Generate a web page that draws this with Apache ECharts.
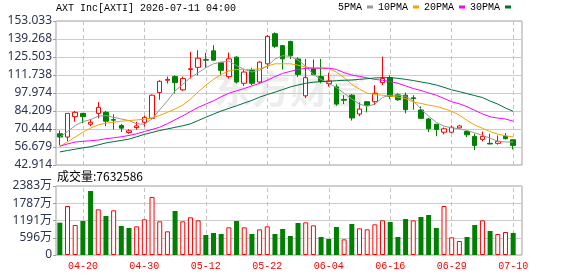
<!DOCTYPE html>
<html><head><meta charset="utf-8">
<script src="https://cdn.jsdelivr.net/npm/echarts@6/dist/echarts.min.js"></script>
<style>html,body{margin:0;padding:0;background:#fff}#c{width:578px;height:276px}</style>
</head><body><div id="c"></div>
<script>
const titleText = 'AXT Inc[AXTI] 2026-07-11 04:00';
const dates = ['04-15','04-16','04-17','04-20','04-21','04-22','04-23','04-24','04-27','04-28',
'04-29','04-30','05-01','05-04','05-05','05-06','05-07','05-08','05-11','05-12',
'05-13','05-14','05-15','05-18','05-19','05-20','05-21','05-22','05-26','05-27',
'05-28','05-29','06-01','06-02','06-03','06-04','06-05','06-08','06-09','06-10',
'06-11','06-12','06-15','06-16','06-17','06-18','06-22','06-23','06-24','06-25',
'06-26','06-29','06-30','07-01','07-02','07-06','07-07','07-08','07-09','07-10'];
const tickDates = ['04-20','04-30','05-12','05-22','06-04','06-16','06-29','07-10'];
const opens = [66.8,64.3,79.9,82.4,74.1,82.4,83.2,77.6,73.1,67.8, 71.6,75.6,78.6,98.3,107.7,110.5,100.4,116.0,117.6,123.5,
130.2,121.1,110.5,125.4,105.4,115.5,106.4,120.3,143.3,134.2, 137.4,124.0,95.8,116.5,110.5,105.2,102.6,93.0,96.3,81.9,
91.3,91.3,105.9,109.7,96.6,96.3,94.3,85.0,78.1,74.1, 68.0,68.0,71.3,68.5,64.8,62.5,59.5,59.5,64.8,62.2];
const closes = [64.3,82.4,83.2,79.9,75.6,87.0,76.4,77.2,71.1,69.1, 72.8,79.4,96.3,106.9,108.4,105.9,109.0,116.5,124.6,123.1,
123.1,115.3,124.1,106.4,114.0,105.4,121.6,141.3,133.7,124.1, 126.5,112.1,109.7,112.2,106.7,107.2,89.5,92.5,78.9,85.7,
88.7,97.8,109.0,95.3,92.8,85.2,93.8,78.6,70.6,70.1, 70.6,71.8,72.8,66.0,57.9,64.8,59.0,61.0,63.0,57.9];
const lows = [57.9,61.0,76.1,74.9,72.6,78.6,72.6,70.0,68.0,66.8, 70.0,72.3,78.1,92.8,105.2,97.8,99.6,109.0,111.5,117.3,
122.8,111.5,109.0,105.2,103.4,103.9,105.4,116.5,132.4,116.0, 124.0,110.1,94.1,111.5,105.4,102.9,88.2,89.5,76.9,80.2,
83.2,88.7,103.9,93.3,92.0,82.4,85.2,78.1,68.0,65.0, 66.3,67.5,70.6,64.3,54.2,61.0,58.7,58.4,62.5,54.9];
const highs = [69.3,82.4,84.2,82.4,78.1,91.0,84.2,81.7,74.4,70.3, 75.9,80.7,96.8,107.7,110.5,111.5,110.5,129.4,130.7,128.6,
134.5,121.8,128.9,126.1,115.5,117.3,122.3,142.3,144.3,134.7, 137.9,125.3,124.0,123.6,124.0,113.5,104.6,96.3,97.1,90.8,
91.8,104.1,125.8,111.5,97.8,98.3,96.3,87.7,78.9,74.1, 71.6,73.1,73.6,69.3,66.8,68.5,66.8,65.5,67.3,62.2];
const volumes = [11160000,16920000,10360000,11740000,22110000,15780000,13470000,15430000,10020000,9330000,
9900000,12320000,20030000,11630000,8170000,15200000,11630000,13010000,11970000,6910000,
7600000,7250000,9550000,11740000,9550000,7250000,8860000,9900000,7250000,8980000,
6560000,11050000,11280000,10250000,6220000,5530000,9670000,5410000,10710000,9210000,
8870000,10590000,11970000,11400000,6220000,12430000,11970000,13130000,13820000,9330000,
16920000,6100000,4840000,6220000,10360000,11970000,8290000,7250000,7940000,7632586];
const volUp = [0,1,1,0,0,1,0,1,0,0, 1,1,1,1,1,0,1,1,1,0, 0,0,1,0,1,0,1,1,0,0,
0,0,1,1,0,0,0,1,0,1, 1,1,1,0,0,0,1,0,0,0, 1,1,1,0,0,1,0,1,1,0];
const ma5 = [64.3,68.5,73.1,76.1,77.6,80.2,80.7,79.4,78.1,76.9, 74.4,74.1,78.1,85.2,92.0,99.6,104.6,109.7,113.5,117.3,
120.3,121.6,122.3,119.0,116.0,114.0,115.5,118.5,124.0,126.5, 126.0,123.1,118.5,112.2,108.4,105.4,102.1,97.8,93.3,89.5,
87.7,89.5,94.6,96.3,96.3,95.3,92.0,85.7,80.2,75.6, 72.6,71.3,70.6,69.3,67.5,65.5,63.5,61.0,60.5,60.5];
const ma10 = [57.2,60.5,64.3,68.0,71.1,73.6,74.9,75.6,76.4,76.9, 77.4,77.9,78.9,80.9,83.2,85.7,88.7,93.3,98.8,103.9,
108.4,112.2,114.8,116.0,116.0,116.0,116.5,118.5,120.3,120.3, 120.3,119.3,117.8,117.0,117.0,116.5,114.0,109.7,104.6,100.9,
97.8,96.8,96.3,95.6,94.8,93.8,91.0,90.0,88.7,87.7, 86.0,84.0,81.0,77.0,73.5,71.0,68.5,66.5,65.3,64.3];
const ma20 = [57.2,59.0,60.5,61.0,61.5,62.0,63.0,63.7,64.5,65.5, 66.8,68.5,70.1,71.8,74.5,77.5,80.5,83.8,87.0,89.5,
92.0,95.1,97.8,99.6,101.4,103.4,105.4,107.7,110.5,113.0, 114.5,116.0,116.8,117.0,117.0,117.0,116.0,113.5,111.7,110.7,
109.5,108.4,107.7,106.7,105.4,103.4,101.4,99.9,98.0,96.3, 93.8,91.3,89.7,87.5,84.7,82.0,79.8,78.8,78.1,76.4];
const ma30 = [52.9,54.0,55.0,56.0,56.9,58.3,59.8,60.8,61.7,62.7, 64.5,66.3,67.8,69.3,70.5,71.7,72.9,74.4,76.9,79.4,
81.9,84.2,86.2,88.2,90.3,92.3,94.8,96.8,98.6,100.6, 102.6,104.1,105.4,106.2,106.7,106.9,107.4,107.7,107.9,108.4,
108.9,109.5,109.7,109.7,109.2,108.4,107.5,106.4,105.4,104.1, 102.3,100.4,99.0,97.5,96.0,94.5,91.8,89.5,86.5,84.0];
const priceTicks = ['42.914','56.679','70.444','84.209','97.974','111.738','125.503','139.268','153.033'];
const volTicks = ['0','596万','1191万','1787万','2383万'];
const volMax = 23830000;

const pMin = parseFloat(priceTicks[0]);
const pMax = parseFloat(priceTicks[priceTicks.length - 1]);
const pInt = (pMax - pMin) / (priceTicks.length - 1);
const vInt = volMax / (volTicks.length - 1);

const UP = '#ff0000', DOWN = '#008000';
const mono = "'Liberation Mono', monospace";
const sans = "'Noto Sans', 'Noto Sans CJK SC', sans-serif";
const gridL = 56, gridW = 466, dataW = 461;
const gridStyle = { color: '#cccccc', width: 1 };
const dashStyle = { color: '#c4c4c4', width: 1, type: [4, 3] };
const showTick = (idx, val) => tickDates.indexOf(val) >= 0;
const vLines = () => ({
  silent: true, symbol: 'none', z: 1, animation: false,
  label: { show: false }, emphasis: { disabled: true },
  lineStyle: dashStyle,
  data: tickDates.map(d => ({ xAxis: d }))
});

const chart = echarts.init(document.getElementById('c'), null, { renderer: 'canvas' });
chart.setOption({
  animation: false,
  backgroundColor: '#fff',
  title: {
    text: titleText, left: 56, top: 3, padding: 0,
    textStyle: { fontFamily: mono, fontSize: 10, fontWeight: 'normal', color: '#000' }
  },
  legend: {
    left: 338, top: 2, padding: 0, itemGap: 5, itemWidth: 6, itemHeight: 3, align: 'right',
    icon: 'rect', selectedMode: false,
    textStyle: { fontFamily: mono, fontSize: 10, color: '#000' },
    data: ['5PMA', '10PMA', '20PMA', '30PMA']
  },
  graphic: [
    { type: 'text', left: 57, top: 170, z: 10,
      style: { text: '成交量:' + volumes[volumes.length - 1], font: "12px 'Noto Sans CJK SC'", fill: '#000' } },
    { type: 'text', left: 214, top: 70, z: -1, silent: true,
      style: { text: '东方财富', font: "bold 38px 'Noto Sans CJK SC'", fill: '#ededed' } }
  ],
  grid: [
    { left: gridL, top: 21, width: gridW, height: 144, show: true, borderColor: '#a0a0a0', borderWidth: 1 },
    { left: gridL, top: 21, width: dataW, height: 144, show: false },
    { left: gridL, top: 186, width: gridW, height: 69, show: true, borderColor: '#a0a0a0', borderWidth: 1 },
    { left: gridL, top: 186, width: dataW, height: 69, show: false }
  ],
  xAxis: [
    { gridIndex: 0, type: 'value', min: 0, max: 1, show: false },
    { gridIndex: 1, type: 'category', data: dates, boundaryGap: true,
      axisLine: { show: false }, axisTick: { show: false }, axisLabel: { show: false },
      splitLine: { show: false } },
    { gridIndex: 2, type: 'value', min: 0, max: 1, show: false },
    { gridIndex: 3, type: 'category', data: dates, boundaryGap: true,
      axisLine: { show: false }, axisTick: { show: false },
      axisLabel: { show: true, interval: showTick, margin: 6, color: UP, fontFamily: mono, fontSize: 10 },
      splitLine: { show: false } }
  ],
  yAxis: [
    { gridIndex: 0, type: 'value', min: pMin, max: pMax, interval: pInt, scale: true,
      axisLine: { show: false }, axisTick: { show: true, length: 3, lineStyle: { color: '#a0a0a0' } },
      axisLabel: { margin: 4, color: '#2b3550', fontFamily: sans, fontSize: 12,
        formatter: v => priceTicks[Math.round((v - pMin) / pInt)] },
      splitLine: { show: true, lineStyle: gridStyle } },
    { gridIndex: 1, type: 'value', min: pMin, max: pMax, show: false, splitLine: { show: false } },
    { gridIndex: 2, type: 'value', min: 0, max: volMax, interval: vInt,
      axisLine: { show: false }, axisTick: { show: true, length: 3, lineStyle: { color: '#a0a0a0' } },
      axisLabel: { margin: 4, color: '#2b3550', fontFamily: sans, fontSize: 12,
        formatter: v => volTicks[Math.round(v / vInt)] },
      splitLine: { show: true, lineStyle: gridStyle } },
    { gridIndex: 3, type: 'value', min: 0, max: volMax, show: false, splitLine: { show: false } }
  ],
  series: [
    { type: 'candlestick', xAxisIndex: 1, yAxisIndex: 1, barWidth: 5, z: 2,
      data: dates.map((d, i) => [opens[i], closes[i], lows[i], highs[i]]),
      itemStyle: { color: '#ffffff', color0: DOWN, borderColor: UP, borderColor0: DOWN, borderWidth: 1 },
      markLine: vLines() },
    { name: '5PMA', type: 'line', xAxisIndex: 1, yAxisIndex: 1, data: ma5, showSymbol: false, z: 3,
      color: '#999999', lineStyle: { width: 1, color: '#999999' } },
    { name: '10PMA', type: 'line', xAxisIndex: 1, yAxisIndex: 1, data: ma10, showSymbol: false, z: 3,
      color: '#f5a400', lineStyle: { width: 1, color: '#f5a400' } },
    { name: '20PMA', type: 'line', xAxisIndex: 1, yAxisIndex: 1, data: ma20, showSymbol: false, z: 3,
      color: '#ff00ff', lineStyle: { width: 1, color: '#ff00ff' } },
    { name: '30PMA', type: 'line', xAxisIndex: 1, yAxisIndex: 1, data: ma30, showSymbol: false, z: 3,
      color: '#00703a', lineStyle: { width: 1, color: '#00703a' } },
    { type: 'bar', xAxisIndex: 3, yAxisIndex: 3, barWidth: 5, z: 2,
      data: volumes.map((v, i) => ({ value: v,
        itemStyle: volUp[i] ? { color: '#ffffff', borderColor: UP, borderWidth: 1 } : { color: DOWN } })),
      markLine: vLines() }
  ]
});
</script></body></html>
